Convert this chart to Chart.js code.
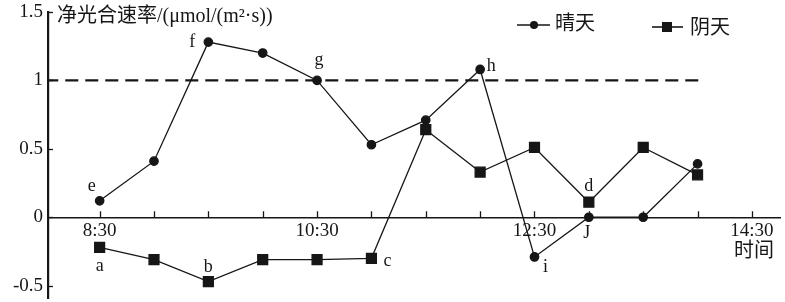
<!DOCTYPE html>
<html><head><meta charset="utf-8">
<script src="https://cdn.jsdelivr.net/npm/chart.js@4"></script>
<style>html,body{margin:0;padding:0;background:#fff}</style>
</head><body>
<canvas id="c" width="785" height="302"></canvas>
<script>
// ---- data ----
const times = ['8:30','9:00','9:30','10:00','10:30','11:00','11:30','12:00','12:30','13:00','13:30','14:00'];
const sunny = [0.12, 0.41, 1.28, 1.20, 1.00, 0.53, 0.71, 1.08, -0.29, 0, 0, 0.39];
const cloudy = [-0.22, -0.31, -0.47, -0.31, -0.31, -0.30, 0.64, 0.33, 0.51, 0.11, 0.51, 0.31];
const sunnyTags = ['e','','f','','g','','','h','i','J','',''];
const cloudyTags = ['a','','b','','','c','','','','d','',''];
const seriesNames = ['晴天','阴天'];
const xTickTimes = ['8:30','9:00','9:30','10:00','10:30','11:00','11:30','12:00','12:30','13:00','13:30','14:00','14:30'];
const xTickText = {'8:30':'8:30','10:30':'10:30','12:30':'12:30','14:30':'14:30'};
const xTitle = '时间';
const yTicks = [-0.5, 0, 0.5, 1, 1.5];
const yTickText = ['-0.5','0','0.5','1','1.5'];
const refValue = 1;
const refSpan = ['8:00','14:02'];
const yTitle = '净光合速率/(μmol/(m²·s))';

// ---- helpers / styles ----
const toMin = t => { const [h,m] = t.split(':').map(Number); return h*60+m; };
const INK = '#161616';
const SERIF = '"Liberation Serif","Noto Sans CJK SC",serif';
const CJK = '"Liberation Serif","Noto Sans CJK SC",serif';
const labelOffsets = {e:[-8,-15], f:[-16,0], g:[2,-20], h:[11,-3], i:[11,10], J:[-2,16],
                      a:[0,19], b:[0,-14], c:[16,3], d:[0,-16]};

const decor = {
  id: 'decor',
  afterDraw(chart) {
    const ctx = chart.ctx, xs = chart.scales.x, ys = chart.scales.y;
    const y0 = ys.getPixelForValue(0), left = chart.chartArea.left;
    ctx.save();
    ctx.strokeStyle = INK; ctx.fillStyle = INK; ctx.lineWidth = 1.3;
    // inward tick marks
    xs.ticks.forEach(t => {
      const px = Math.round(xs.getPixelForValue(t.value)) + 0.5;
      ctx.beginPath(); ctx.moveTo(px, y0); ctx.lineTo(px, y0 - 6); ctx.stroke();
    });
    ys.ticks.forEach(t => {
      const py = Math.round(ys.getPixelForValue(t.value)) + 0.5;
      ctx.beginPath(); ctx.moveTo(left, py); ctx.lineTo(left + 5, py); ctx.stroke();
    });
    // axis titles
    ctx.font = '20px ' + CJK; ctx.textAlign = 'left'; ctx.textBaseline = 'middle';
    ctx.fillText(yTitle, 57, 17);
    ctx.textAlign = 'center';
    ctx.fillText(xTitle, xs.getPixelForValue(toMin(xTickTimes[xTickTimes.length-1])) + 2, y0 + 34);
    // point labels
    ctx.font = '18px ' + SERIF; ctx.textAlign = 'center';
    [[0, sunnyTags], [1, cloudyTags]].forEach(([di, tags]) => {
      const pts = chart.getDatasetMeta(di).data;
      tags.forEach((tg, j) => {
        if (!tg) return;
        const o = labelOffsets[tg] || [0, -14];
        ctx.fillText(tg, pts[j].x + o[0], pts[j].y + o[1]);
      });
    });
    // legend
    ctx.lineWidth = 1.3;
    ctx.beginPath(); ctx.moveTo(517, 25); ctx.lineTo(550, 25); ctx.stroke();
    ctx.beginPath(); ctx.arc(534, 25, 4, 0, Math.PI*2); ctx.fill();
    ctx.lineWidth = 1.6;
    ctx.beginPath(); ctx.moveTo(652, 27); ctx.lineTo(683, 27); ctx.stroke();
    ctx.fillRect(662, 22, 10, 10);
    ctx.font = '20px ' + CJK; ctx.textAlign = 'left'; ctx.textBaseline = 'middle';
    ctx.fillText(seriesNames[0], 555, 25);
    ctx.fillText(seriesNames[1], 690, 29);
    ctx.restore();
  }
};

new Chart(document.getElementById('c'), {
  type: 'line',
  data: {
    datasets: [
      { label: seriesNames[0], data: times.map((t,i)=>({x:toMin(t), y:sunny[i]})),
        borderColor: INK, backgroundColor: INK, borderWidth: 1.3, pointStyle: 'circle',
        pointRadius: 4.2, pointHoverRadius: 4.2, tension: 0, order: 2 },
      { label: seriesNames[1], data: times.map((t,i)=>({x:toMin(t), y:cloudy[i]})),
        borderColor: INK, backgroundColor: INK, borderWidth: 1.3, pointStyle: 'rect',
        pointRadius: 7, pointHoverRadius: 7, tension: 0, order: 1 },
      { label: 'ref', data: refSpan.map(t=>({x:toMin(t), y:refValue})),
        borderColor: INK, borderWidth: 2.2, borderDash: [13, 7], pointRadius: 0, order: 3 }
    ]
  },
  options: {
    responsive: false, animation: false, events: [],
    layout: { autoPadding: false, padding: { top: 12, bottom: 4, left: 0, right: 5 } },
    plugins: { legend: { display: false }, tooltip: { enabled: false }, title: { display: false } },
    scales: {
      x: {
        type: 'linear', position: { y: 0 }, min: 481.5, max: 885.5, z: 1,
        afterBuildTicks: s => { s.ticks = xTickTimes.map(t => ({ value: toMin(t) })); },
        afterFit: s => { s.paddingLeft = 0; s.paddingRight = 0; s.paddingTop = 0; s.paddingBottom = 0; },
        ticks: {
          autoSkip: false, maxRotation: 0, color: INK, padding: 3,
          font: { family: SERIF, size: 19, lineHeight: 1.1 },
          showLabelBackdrop: true, backdropColor: '#fff', backdropPadding: 1,
          callback: v => {
            const k = Math.floor(v/60) + ':' + String(v%60).padStart(2,'0');
            return xTickText[k] !== undefined ? xTickText[k] : '';
          }
        },
        grid: { drawOnChartArea: false, drawTicks: false },
        border: { color: INK, width: 1.5 }
      },
      y: {
        type: 'linear', position: 'left', min: -0.59, max: 1.5,
        afterFit: s => { s.width = 48; s.paddingTop = 0; s.paddingBottom = 0; },
        afterBuildTicks: s => { s.ticks = yTicks.map(v => ({ value: v })); },
        ticks: {
          color: INK, padding: 5, font: { family: SERIF, size: 19 },
          callback: v => yTickText[yTicks.indexOf(v)]
        },
        grid: { drawOnChartArea: false, drawTicks: false },
        border: { color: INK, width: 2.2 }
      }
    }
  },
  plugins: [decor]
});
</script>
</body></html>
